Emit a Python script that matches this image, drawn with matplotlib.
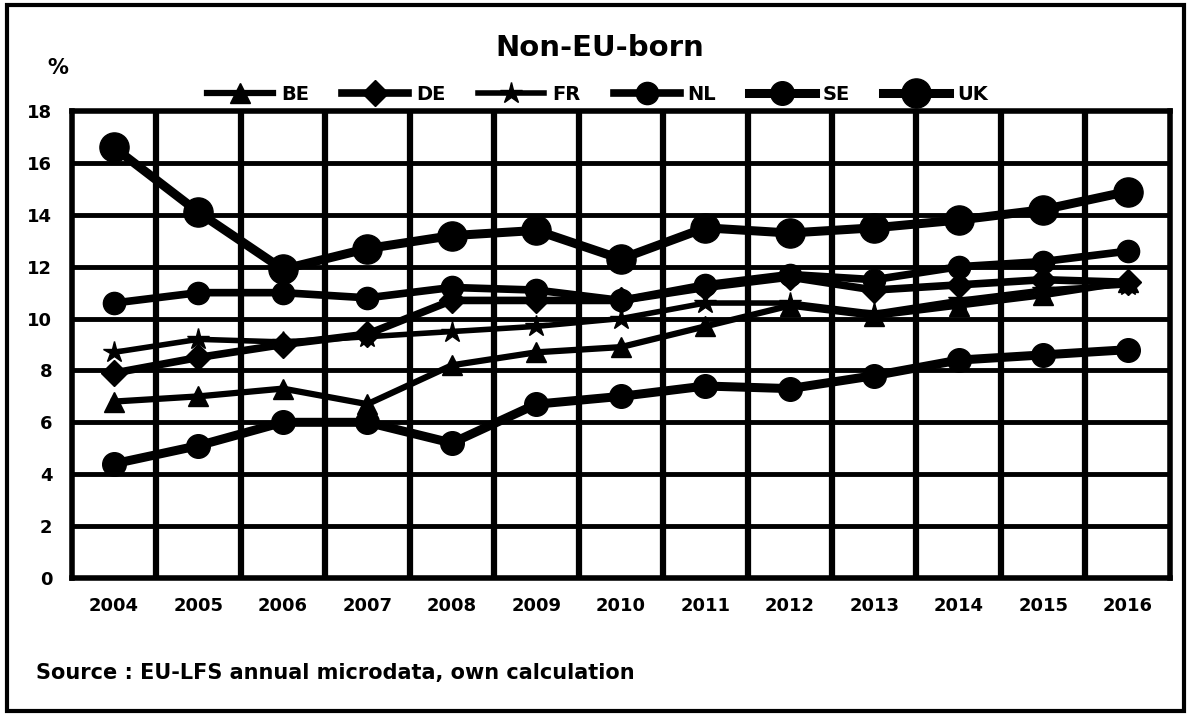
import matplotlib.pyplot as plt
import matplotlib.patches as patches

years = [str(y) for y in range(2004, 2017)]

be = [6.8, 7.0, 7.3, 6.7, 8.2, 8.7, 8.9, 9.7, 10.5, 10.1, 10.5, 10.9, 11.4]
de = [7.9, 8.5, 9.0, 9.4, 10.7, 10.7, 10.7, 11.2, 11.6, 11.1, 11.3, 11.5, 11.4]
fr = [8.7, 9.2, 9.1, 9.3, 9.5, 9.7, 10.0, 10.6, 10.6, 10.2, 10.7, 11.1, 11.3]
nl = [10.6, 11.0, 11.0, 10.8, 11.2, 11.1, 10.7, 11.3, 11.7, 11.5, 12.0, 12.2, 12.6]
se = [4.4, 5.1, 6.0, 6.0, 5.2, 6.7, 7.0, 7.4, 7.3, 7.8, 8.4, 8.6, 8.8]
uk = [16.6, 14.1, 11.9, 12.7, 13.2, 13.4, 12.3, 13.5, 13.3, 13.5, 13.8, 14.2, 14.9]

plt.rcParams["font.family"] = "DejaVu Sans"
plt.rcParams["font.weight"] = "bold"

fig = plt.figure(figsize=(11.95, 7.17), dpi=100)
ax = fig.add_axes([0.060, 0.194, 0.919, 0.651])

x = list(range(len(years)))
ax.plot(x, be, color="black", lw=4.5, marker="^", ms=14, label="BE")
ax.plot(x, de, color="black", lw=5.5, marker="D", ms=13, label="DE")
ax.plot(x, fr, color="black", lw=4, marker="*", ms=16, label="FR")
ax.plot(x, nl, color="black", lw=5.5, marker="o", ms=16, label="NL")
ax.plot(x, se, color="black", lw=6.5, marker="o", ms=17, label="SE")
ax.plot(x, uk, color="black", lw=6.5, marker="o", ms=21, label="UK")

ax.set_xlim(-0.5, len(years) - 0.5)
ax.set_ylim(0, 18)
ax.set_yticks(range(0, 19, 2))
ax.set_xticks(x)
ax.set_xticklabels(years, fontsize=13, fontweight="bold")
ax.tick_params(axis="y", labelsize=13, length=0, pad=14)
ax.tick_params(axis="x", length=0, pad=14)

# horizontal grid at every 2 %, vertical separators between years
for v in range(2, 18, 2):
    ax.axhline(v, color="black", lw=3.5, zorder=0)
for i in range(1, len(years)):
    ax.axvline(i - 0.5, color="black", lw=4.5, zorder=0)
for s in ax.spines.values():
    s.set_linewidth(4)

fig.text(0.502, 0.933, "Non-EU-born", ha="center", va="center",
         fontsize=21, fontweight="bold")
fig.text(0.040, 0.905, "%", ha="left", va="center", fontsize=15, fontweight="bold")

fig.legend(loc="center", bbox_to_anchor=(0.5, 0.868), ncol=6, frameon=False,
           fontsize=14, handlelength=3.4, columnspacing=1.7, handletextpad=0.4)

fig.text(0.030, 0.062, "Source : EU-LFS annual microdata, own calculation",
         ha="left", va="center", fontsize=15, fontweight="bold")

fig.patches.append(patches.Rectangle((0.006, 0.008), 0.985, 0.985,
                                     transform=fig.transFigure, fill=False,
                                     edgecolor="black", lw=3))

fig.savefig("out.png", dpi=100)
